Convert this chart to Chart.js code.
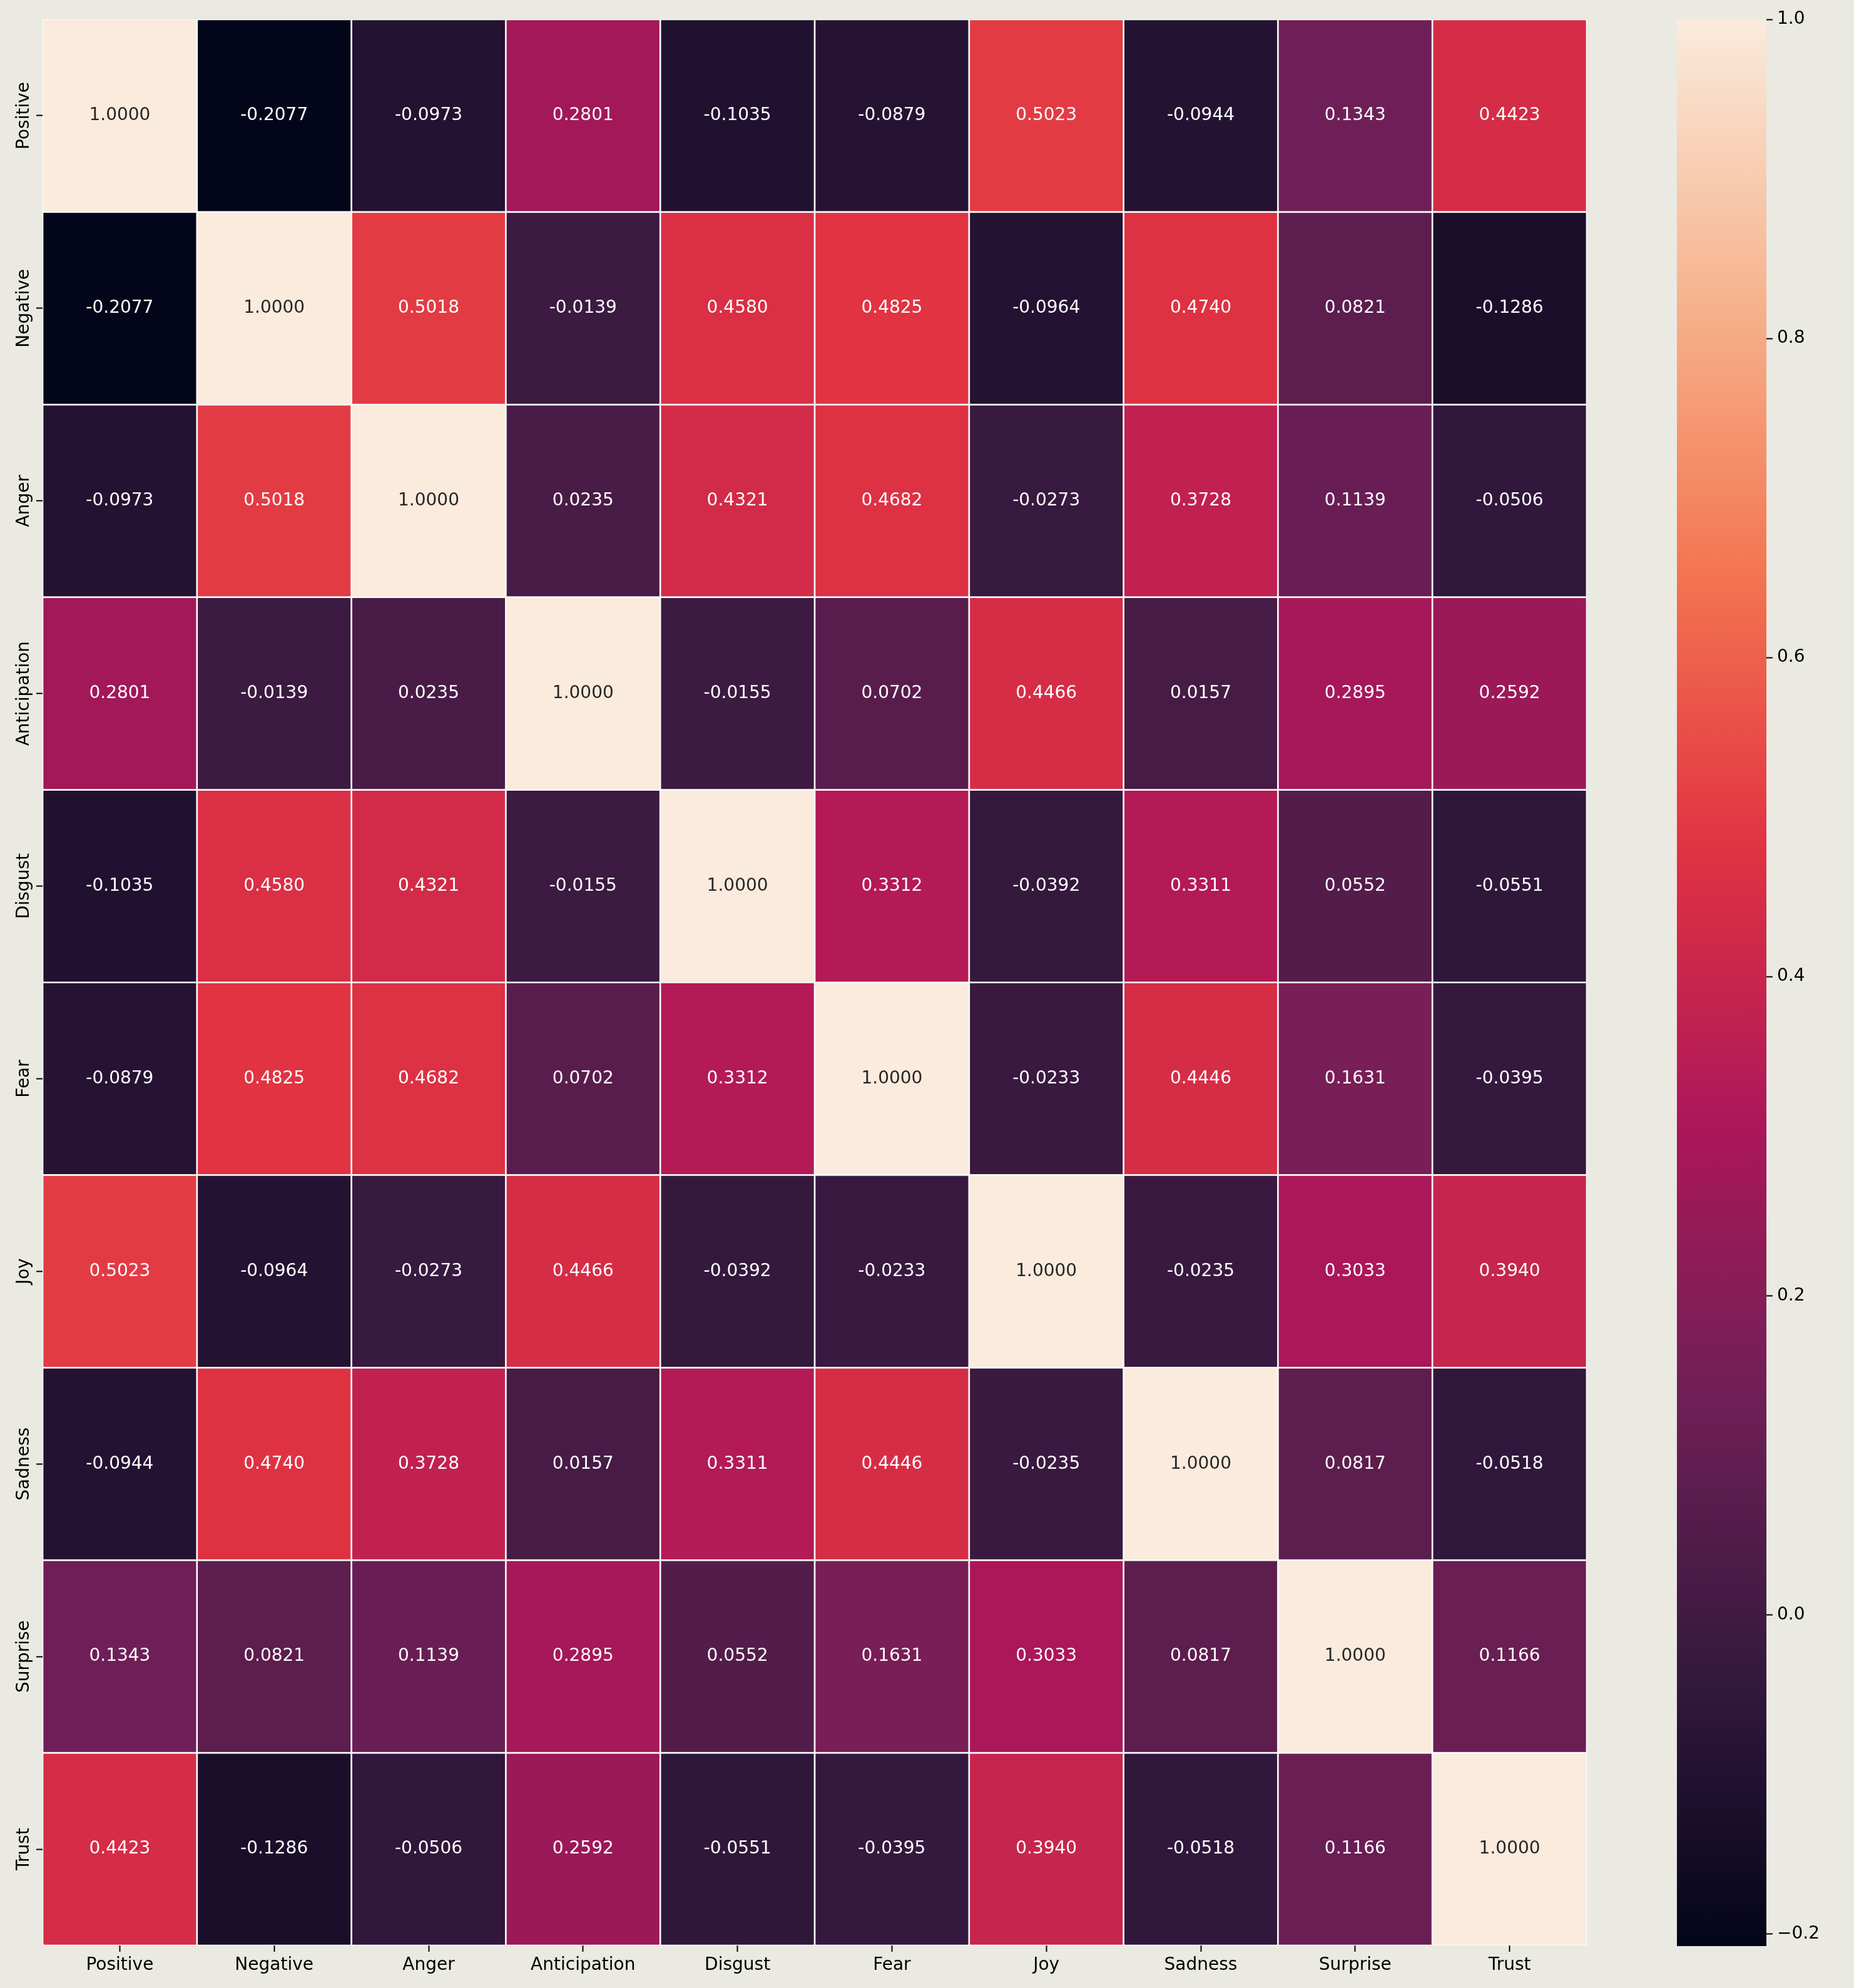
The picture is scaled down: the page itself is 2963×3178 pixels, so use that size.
<!DOCTYPE html>
<html>
<head>
<meta charset="utf-8">
<script src="https://cdn.jsdelivr.net/npm/chart.js@4/dist/chart.umd.min.js"></script>
<style>
    body { margin: 0; background: #eae9e2; }
    #wrap { position: relative; width: 2963px; height: 3178px; }
    canvas { position: absolute; top: 0; }
</style>
</head>
<body>
<div id="wrap">
    <canvas id="heat" width="2600" height="3178" style="left:0;width:2600px;height:3178px"></canvas>
    <canvas id="bar" width="283" height="3178" style="left:2680px;width:283px;height:3178px"></canvas>
</div>
<script>
var labels = ['Positive', 'Negative', 'Anger', 'Anticipation', 'Disgust', 'Fear', 'Joy', 'Sadness', 'Surprise', 'Trust'];

// one row of the correlation matrix per emotion
var positiveRow = [1.0000, -0.2077, -0.0973, 0.2801, -0.1035, -0.0879, 0.5023, -0.0944, 0.1343, 0.4423];
var negativeRow = [-0.2077, 1.0000, 0.5018, -0.0139, 0.4580, 0.4825, -0.0964, 0.4740, 0.0821, -0.1286];
var angerRow = [-0.0973, 0.5018, 1.0000, 0.0235, 0.4321, 0.4682, -0.0273, 0.3728, 0.1139, -0.0506];
var anticipationRow = [0.2801, -0.0139, 0.0235, 1.0000, -0.0155, 0.0702, 0.4466, 0.0157, 0.2895, 0.2592];
var disgustRow = [-0.1035, 0.4580, 0.4321, -0.0155, 1.0000, 0.3312, -0.0392, 0.3311, 0.0552, -0.0551];
var fearRow = [-0.0879, 0.4825, 0.4682, 0.0702, 0.3312, 1.0000, -0.0233, 0.4446, 0.1631, -0.0395];
var joyRow = [0.5023, -0.0964, -0.0273, 0.4466, -0.0392, -0.0233, 1.0000, -0.0235, 0.3033, 0.3940];
var sadnessRow = [-0.0944, 0.4740, 0.3728, 0.0157, 0.3311, 0.4446, -0.0235, 1.0000, 0.0817, -0.0518];
var surpriseRow = [0.1343, 0.0821, 0.1139, 0.2895, 0.0552, 0.1631, 0.3033, 0.0817, 1.0000, 0.1166];
var trustRow = [0.4423, -0.1286, -0.0506, 0.2592, -0.0551, -0.0395, 0.3940, -0.0518, 0.1166, 1.0000];

var colorbarTicks = [-0.2, 0.0, 0.2, 0.4, 0.6, 0.8, 1.0];

var matrix = [positiveRow, negativeRow, angerRow, anticipationRow, disgustRow, fearRow, joyRow, sadnessRow, surpriseRow, trustRow];
var vmin = Math.min.apply(null, [].concat.apply([], matrix));
var vmax = 1.0;

// rocket colormap, sampled stops
var rocketStops = [
    [0.0, [3, 5, 26]],
    [1 / 7, [53, 25, 62]],
    [2 / 7, [112, 31, 87]],
    [3 / 7, [173, 23, 89]],
    [4 / 7, [225, 51, 66]],
    [5 / 7, [243, 118, 81]],
    [6 / 7, [246, 180, 143]],
    [1.0, [250, 235, 221]]
];

function rocketRgb(t) {
    t = Math.max(0, Math.min(1, t));
    for (var i = 1; i < rocketStops.length; i++) {
        if (t <= rocketStops[i][0]) {
            var a = rocketStops[i - 1], b = rocketStops[i];
            var f = (t - a[0]) / (b[0] - a[0]);
            return [0, 1, 2].map(function(k) {
                return Math.round(a[1][k] + (b[1][k] - a[1][k]) * f);
            });
        }
    }
    return rocketStops[rocketStops.length - 1][1];
}

function valueRgb(v) {
    return rocketRgb((v - vmin) / (vmax - vmin));
}

function toCss(rgb) {
    return 'rgb(' + rgb[0] + ',' + rgb[1] + ',' + rgb[2] + ')';
}

// same rule seaborn uses to pick the annotation colour
function luminance(rgb) {
    var lin = rgb.map(function(c) {
        c = c / 255;
        return c <= 0.03928 ? c / 12.92 : Math.pow((c + 0.055) / 1.055, 2.4);
    });
    return 0.2126 * lin[0] + 0.7152 * lin[1] + 0.0722 * lin[2];
}

var font = { family: 'DejaVu Sans', size: 28 };

// each row is a dataset of floating bars spanning [row, row + 1]
var dataSets = matrix.map(function(row, i) {
    return {
        label: labels[i],
        data: row.map(function() { return [i, i + 1]; }),
        values: row,
        backgroundColor: row.map(function(v) { return toCss(valueRgb(v)); }),
        borderColor: '#ffffff',
        borderWidth: 1.35,
        borderSkipped: false,
        inflateAmount: 0,
        barPercentage: 1,
        categoryPercentage: 1
    };
});

var annotate = {
    id: 'annotate',
    afterDatasetsDraw: function(chart) {
        var ctx = chart.ctx;
        ctx.save();
        ctx.font = '28px "DejaVu Sans"';
        ctx.textAlign = 'center';
        ctx.textBaseline = 'middle';
        chart.data.datasets.forEach(function(ds, i) {
            chart.getDatasetMeta(i).data.forEach(function(bar, j) {
                var v = ds.values[j];
                ctx.fillStyle = luminance(valueRgb(v)) > 0.408 ? '#262626' : '#ffffff';
                ctx.fillText(v.toFixed(4), bar.x, (bar.y + bar.base) / 2);
            });
        });
        ctx.restore();
    }
};

// y labels are drawn by hand, rotated like matplotlib's
var rowLabels = {
    id: 'rowLabels',
    afterDraw: function(chart) {
        var ctx = chart.ctx;
        var y = chart.scales.y;
        ctx.save();
        ctx.font = '28px "DejaVu Sans"';
        ctx.fillStyle = '#000000';
        ctx.textAlign = 'center';
        ctx.textBaseline = 'alphabetic';
        labels.forEach(function(lab, i) {
            ctx.save();
            ctx.translate(chart.chartArea.left - 22, y.getPixelForValue(i + 0.5));
            ctx.rotate(-Math.PI / 2);
            ctx.fillText(lab, 0, 0);
            ctx.restore();
        });
        ctx.restore();
    }
};

new Chart(document.getElementById('heat').getContext('2d'), {
    type: 'bar',
    data: { labels: labels, datasets: dataSets },
    options: {
        responsive: false,
        animation: false,
        devicePixelRatio: 1,
        layout: { padding: { left: 0, top: 31, right: 64, bottom: 0 } },
        datasets: { bar: { grouped: false } },
        plugins: { legend: { display: false }, tooltip: { enabled: false } },
        scales: {
            x: {
                type: 'category',
                grid: { drawOnChartArea: false, offset: false, tickLength: 10, tickWidth: 2, tickColor: '#000000' },
                border: { display: false },
                ticks: { font: font, color: '#000000', padding: 5, maxRotation: 0, autoSkip: false },
                afterFit: function(scale) { scale.height = 68; }
            },
            y: {
                type: 'linear',
                min: 0,
                max: 10,
                reverse: true,
                stacked: false,
                grid: { drawOnChartArea: false, tickLength: 10, tickWidth: 2, tickColor: '#000000' },
                border: { display: false },
                ticks: { display: false },
                afterBuildTicks: function(scale) {
                    scale.ticks = labels.map(function(l, i) { return { value: i + 0.5 }; });
                },
                afterFit: function(scale) { scale.width = 68; }
            }
        }
    },
    plugins: [annotate, rowLabels]
});

// colorbar: a single floating bar filled with the colormap gradient
function colorbarFill(context) {
    var chart = context.chart;
    if (!chart.chartArea) return null;
    var y = chart.scales.y;
    var g = chart.ctx.createLinearGradient(0, y.getPixelForValue(vmin), 0, y.getPixelForValue(vmax));
    for (var s = 0; s <= 64; s++) {
        g.addColorStop(s / 64, toCss(rocketRgb(s / 64)));
    }
    return g;
}

new Chart(document.getElementById('bar').getContext('2d'), {
    type: 'bar',
    data: {
        labels: [''],
        datasets: [{
            data: [[vmin, vmax]],
            backgroundColor: colorbarFill,
            borderWidth: 0,
            inflateAmount: 0,
            barPercentage: 1,
            categoryPercentage: 1
        }]
    },
    options: {
        responsive: false,
        animation: false,
        devicePixelRatio: 1,
        layout: { padding: { left: 0, top: 31, right: 0, bottom: 67 } },
        plugins: { legend: { display: false }, tooltip: { enabled: false } },
        scales: {
            x: { display: false },
            y: {
                position: 'right',
                min: vmin,
                max: vmax,
                grid: { drawOnChartArea: false, tickLength: 10, tickWidth: 2, tickColor: '#000000' },
                border: { display: false },
                ticks: {
                    font: font,
                    color: '#000000',
                    padding: 7,
                    callback: function(v) { return v.toFixed(1).replace('-', '\u2212'); }
                },
                afterBuildTicks: function(scale) {
                    scale.ticks = colorbarTicks.map(function(v) { return { value: v }; });
                },
                afterFit: function(scale) { scale.width = 140; }
            }
        }
    }
});
</script>
</body>
</html>
